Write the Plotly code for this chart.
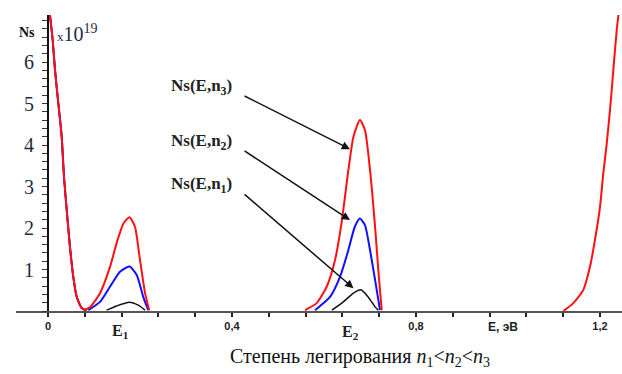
import plotly.graph_objects as go

# Surface state density Ns(E) for three doping levels, in units of 1e19
# Energies in eV

# Intrinsic branch near E = 0 (common to all doping levels)
left_E = [0.002, 0.0043, 0.0102, 0.0152, 0.0224, 0.0298, 0.0348, 0.0407,
          0.0478, 0.055, 0.0624, 0.0733, 0.080, 0.084]
left_Ns = [7.35, 7.13, 6.53, 5.81, 5.01, 4.19, 3.23, 2.43,
           1.54, 0.82, 0.34, 0.07, 0.03, 0.02]

# Band near E1
e1_E_n3 = [0.080, 0.0913, 0.113, 0.135, 0.149, 0.164, 0.177, 0.189, 0.200, 0.211, 0.220]
e1_Ns_n3 = [0.03, 0.09, 0.43, 1.07, 1.63, 2.11, 2.26, 2.03, 1.23, 0.43, 0.02]
e1_E_n2 = [0.0877, 0.113, 0.135, 0.157, 0.177, 0.193, 0.207, 0.218]
e1_Ns_n2 = [0.02, 0.22, 0.59, 0.95, 1.07, 0.87, 0.34, 0.02]
e1_E_n1 = [0.1275, 0.149, 0.177, 0.196, 0.211]
e1_Ns_n1 = [0.02, 0.12, 0.21, 0.14, 0.02]

# Band near E2
e2_E_n3 = [0.5587, 0.584, 0.606, 0.624, 0.638, 0.653, 0.664, 0.678, 0.689,
           0.700, 0.711, 0.718, 0.7254]
e2_Ns_n3 = [0.02, 0.19, 0.59, 1.23, 2.11, 3.40, 4.20, 4.60, 4.36,
            3.40, 2.03, 0.99, 0.02]
e2_E_n2 = [0.5804, 0.613, 0.635, 0.653, 0.667, 0.678, 0.689, 0.700, 0.711, 0.7217]
e2_Ns_n2 = [0.02, 0.34, 0.83, 1.47, 2.03, 2.23, 2.07, 1.47, 0.75, 0.02]
e2_E_n1 = [0.617, 0.642, 0.664, 0.680, 0.696, 0.711, 0.718]
e2_Ns_n1 = [0.02, 0.22, 0.43, 0.51, 0.34, 0.10, 0.02]

# Rising branch toward the band edge
right_E = [1.1203, 1.142, 1.1637, 1.1783, 1.189, 1.200, 1.2072, 1.2146,
           1.2217, 1.229, 1.2363, 1.240, 1.243]
right_Ns = [0.0, 0.19, 0.51, 1.07, 1.71, 2.51, 3.32, 4.04,
            4.84, 5.81, 6.77, 7.13, 7.4]

x_tick_vals = [0, 0.08, 0.16, 0.24, 0.32, 0.4, 0.48, 0.56, 0.64, 0.72,
               0.8, 0.88, 0.96, 1.04, 1.12, 1.2]
x_tick_text = ["0", "", "", "", "", "0,4", "", "", "", "",
               "0,8", "", "", "", "", "1,2"]
y_tick_vals = [1, 2, 3, 4, 5, 6]
y_tick_text = ["1", "2", "3", "4", "5", "6"]

level_names = ["Ns(E,n<sub>3</sub>)", "Ns(E,n<sub>2</sub>)", "Ns(E,n<sub>1</sub>)"]


def joined(*segments):
    xs, ys = [], []
    for sx, sy in segments:
        if xs:
            xs.append(None)
            ys.append(None)
        xs.extend(sx)
        ys.extend(sy)
    return xs, ys


fig = go.Figure()

n1_x, n1_y = joined((left_E, left_Ns), (e1_E_n1, e1_Ns_n1), (e2_E_n1, e2_Ns_n1))
n2_x, n2_y = joined((left_E, left_Ns), (e1_E_n2, e1_Ns_n2), (e2_E_n2, e2_Ns_n2))
n3_x, n3_y = joined((left_E, left_Ns), (e1_E_n3, e1_Ns_n3), (e2_E_n3, e2_Ns_n3),
                    (right_E, right_Ns))

fig.add_trace(go.Scatter(x=n1_x, y=n1_y, mode="lines", connectgaps=False,
                         line=dict(color="#111111", width=1.5, shape="spline", smoothing=0.6)))
fig.add_trace(go.Scatter(x=n2_x, y=n2_y, mode="lines", connectgaps=False,
                         line=dict(color="#1010ff", width=2, shape="spline", smoothing=0.6)))
fig.add_trace(go.Scatter(x=n3_x, y=n3_y, mode="lines", connectgaps=False,
                         line=dict(color="#ff1010", width=2, shape="spline", smoothing=0.6)))

serif = "Liberation Serif"
sans = "Liberation Sans"

annotations = []

# Curve labels with pointer arrows
label_pos = [(0.3326, 5.40), (0.3326, 4.07), (0.3326, 3.04)]
arrow_tail = [(0.424, 5.20), (0.424, 3.88), (0.424, 2.84)]
arrow_tip = [(0.6565, 3.90), (0.6565, 2.19), (0.664, 0.55)]
for name, (lx, ly), (tx, ty), (hx, hy) in zip(level_names, label_pos, arrow_tail, arrow_tip):
    annotations.append(dict(x=lx, y=ly, xref="x", yref="y", text=name, showarrow=False,
                            font=dict(family=serif, size=17, color="#222222", weight="bold")))
    annotations.append(dict(x=hx, y=hy, ax=tx, ay=ty, xref="x", yref="y", axref="x", ayref="y",
                            text="", showarrow=True, arrowhead=2, arrowsize=1.1,
                            arrowwidth=1.5, arrowcolor="#111111", standoff=0))

# Energy level marks under the axis
annotations.append(dict(x=0.157, y=-0.068, xref="x", yref="paper", yanchor="middle",
                        text="E<sub>1</sub>", showarrow=False,
                        font=dict(family=serif, size=16, color="#222222", weight="bold")))
annotations.append(dict(x=0.657, y=-0.072, xref="x", yref="paper", yanchor="middle",
                        text="E<sub>2</sub>", showarrow=False,
                        font=dict(family=serif, size=16, color="#222222", weight="bold")))
annotations.append(dict(x=0.99, y=-0.054, xref="x", yref="paper", yanchor="middle",
                        text="E, эВ", showarrow=False,
                        font=dict(family=sans, size=12, color="#222222", weight="bold")))

# Axis title and scale factor
annotations.append(dict(x=-0.0456, y=6.7, xref="x", yref="y", text="Ns",
                        showarrow=False, font=dict(family=serif, size=14, color="#111111", weight="bold")))
annotations.append(dict(x=0.0152, y=6.7, xref="x", yref="y", xanchor="left",
                        text="<span style='font-size:13px'>x</span>10<sup>19</sup>",
                        showarrow=False, font=dict(family=serif, size=20, color="#1f2a44")))

# Caption
annotations.append(dict(x=0.5677, y=-0.157, xref="paper", yref="paper", yanchor="middle",
                        text="Степень легирования <i>n</i><sub>1</sub>&lt;<i>n</i><sub>2</sub>&lt;<i>n</i><sub>3</sub>",
                        showarrow=False, font=dict(family=serif, size=20, color="#111111")))

fig.update_layout(
    width=622, height=374,
    margin=dict(l=16, r=0, t=15, b=63),
    paper_bgcolor="white", plot_bgcolor="white",
    showlegend=False,
    annotations=annotations,
    xaxis=dict(range=[-0.06957, 1.2478], showgrid=False, zeroline=False,
               showline=True, linecolor="#555555", linewidth=2,
               tickmode="array", tickvals=x_tick_vals, ticktext=x_tick_text,
               ticks="outside", ticklen=4, tickwidth=1.5, tickcolor="#222222",
               tickfont=dict(family=sans, size=11, color="#222222", weight="bold")),
    yaxis=dict(range=[0, 7.133], showgrid=False, zeroline=False,
               anchor="free", position=0.0528,
               showline=True, linecolor="#111111", linewidth=2,
               tickmode="array", tickvals=y_tick_vals, ticktext=y_tick_text,
               ticks="outside", ticklen=5, tickwidth=1, tickcolor="#333333",
               ticklabelstandoff=4,
               tickfont=dict(family=serif, size=20, color="#1f2a44"),
               minor=dict(dtick=0.2, tick0=0, ticks="outside", ticklen=5,
                          tickwidth=1, tickcolor="#333333")),
)

fig.write_html("out.html")
